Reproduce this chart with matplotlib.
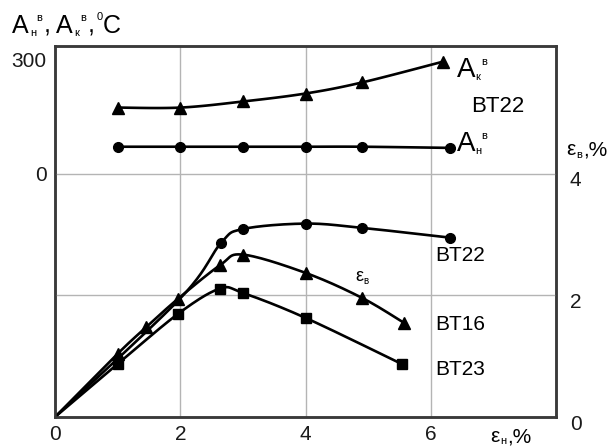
import numpy as np
import matplotlib
matplotlib.use("Agg")
import matplotlib.pyplot as plt
from matplotlib.transforms import ScaledTranslation

plt.rcParams['font.family'] = ['Liberation Sans', 'DejaVu Sans']

# ---- data ----
# upper panel: temperatures, left axis (deg C)
ak_x = [1.0, 2.0, 3.0, 4.0, 4.9, 6.2]
ak_t = [174, 174, 190, 211, 240, 295]
an_x = [1.0, 2.0, 3.0, 4.0, 4.9, 6.3]
an_t = [71, 71, 71, 71, 71, 68]

# lower panel: eps_v (%), right axis
bt22_x = [0.0, 2.0, 2.65, 3.0, 4.0, 4.9, 6.3]
bt22_e = [0.0, 1.95, 2.86, 3.09, 3.18, 3.11, 2.95]
bt16_x = [0.0, 1.0, 1.46, 1.96, 2.64, 3.0, 4.0, 4.9, 5.57]
bt16_e = [0.0, 1.04, 1.48, 1.94, 2.50, 2.67, 2.37, 1.96, 1.55]
bt23_x = [0.0, 1.0, 1.97, 2.63, 3.0, 4.0, 5.54]
bt23_e = [0.0, 0.87, 1.70, 2.11, 2.04, 1.63, 0.87]

x_ticks = [0, 2, 4, 6]
left_ticks = [0, 300]
right_ticks = [0, 2, 4]

W, H = 613, 448


def smooth(x, y, n=25):
    # Catmull-Rom curve through the points, just for drawing the line
    pts = np.column_stack([x, y]).astype(float)
    p = np.vstack([pts[0], pts, pts[-1]])
    t = np.linspace(0, 1, n)[:, None]
    segs = []
    for i in range(1, len(p) - 2):
        p0, p1, p2, p3 = p[i - 1], p[i], p[i + 1], p[i + 2]
        seg = 0.5 * (2 * p1 + (-p0 + p2) * t + (2 * p0 - 5 * p1 + 4 * p2 - p3) * t ** 2
                     + (-p0 + 3 * p1 - 3 * p2 + p3) * t ** 3)
        segs.append(seg)
    c = np.vstack(segs)
    return c[:, 0], c[:, 1]


def px(x, y):
    return x / W, 1 - y / H


fig = plt.figure(figsize=(W / 100, H / 100), dpi=100)
ax = fig.add_axes([55 / W, 1 - 417 / H, (556 - 55) / W, (417 - 46) / H])
ax2 = ax.twinx()

ax.set_xlim(0, 8)
ax.set_ylim(-640, 336)
ax2.set_ylim(0, 6.1)

grid_c = '#b4b4b4'
for gx in [2, 4, 6]:
    ax.axvline(gx, color=grid_c, lw=1.0, zorder=0)
for gy in [2, 4]:
    ax2.axhline(gy, color=grid_c, lw=1.0, zorder=0)

lw = 1.9
# temperature curves
sx, sy = smooth(ak_x, ak_t)
ax.plot(sx, sy, color='black', lw=lw)
ax.plot(ak_x, ak_t, 'k^', ms=8, ls='none')
sx, sy = smooth(an_x, an_t)
ax.plot(sx, sy, color='black', lw=lw)
ax.plot(an_x, an_t, 'ko', ms=7, ls='none')

# eps_v curves
sx, sy = smooth(bt22_x, bt22_e)
ax2.plot(sx, sy, color='black', lw=lw)
ax2.plot(bt22_x[2:], bt22_e[2:], 'ko', ms=7, ls='none')
sx, sy = smooth(bt16_x, bt16_e)
ax2.plot(sx, sy, color='black', lw=lw)
ax2.plot(bt16_x[1:], bt16_e[1:], 'k^', ms=8, ls='none')
sx, sy = smooth(bt23_x, bt23_e)
ax2.plot(sx, sy, color='black', lw=lw)
ax2.plot(bt23_x[1:], bt23_e[1:], 'ks', ms=6.5, ls='none')

# axes look
for a in (ax, ax2):
    for s in a.spines.values():
        s.set_color('#3a3a3a')
        s.set_linewidth(1.8)
ax.set_xticks(x_ticks)
ax.set_yticks(left_ticks)
ax2.set_yticks(right_ticks)
ax.tick_params(axis='both', length=0, labelsize=15, colors='#1a1a1a')
ax.tick_params(axis='x', pad=6)
ax.tick_params(axis='y', pad=6)
ax2.tick_params(axis='y', length=0, labelsize=15, pad=10, colors='#1a1a1a')
off = ScaledTranslation(0, -0.05, fig.dpi_scale_trans)
for lbl in ax2.get_yticklabels():
    lbl.set_transform(lbl.get_transform() + off)


def a_label(x, y, sub, sup, size=18):
    # "A" with small subscript and superscript letters
    fig.text(*px(x, y), 'A', fontsize=size, ha='left', va='baseline')
    fig.text(*px(x + 18, y + 3), sub, fontsize=8, ha='left', va='baseline')
    fig.text(*px(x + 24, y - 12), sup, fontsize=8, ha='left', va='baseline')


# top-left axis title
a_label(12, 33, 'н', 'в')
fig.text(*px(44, 33), ',', fontsize=18, ha='left', va='baseline')
a_label(56, 33, 'к', 'в')
fig.text(*px(88, 33), ',', fontsize=18, ha='left', va='baseline')
fig.text(*px(97, 20), '0', fontsize=8, ha='left', va='baseline')
fig.text(*px(103, 33), 'C', fontsize=18, ha='left', va='baseline')

# curve labels, upper panel
a_label(457, 77, 'к', 'в', size=20)
fig.text(*px(498, 107), 'BT22', fontsize=16, ha='center', va='center')
a_label(457, 151, 'н', 'в', size=20)

# right axis title
fig.text(*px(566, 155), 'ε', fontsize=15, ha='left', va='baseline')
fig.text(*px(576, 158), 'в', fontsize=8, ha='left', va='baseline')
fig.text(*px(583, 155), ',%', fontsize=15, ha='left', va='baseline')

# lower panel labels
fig.text(*px(435, 255), 'BT22', fontsize=15, ha='left', va='center')
fig.text(*px(435, 324), 'BT16', fontsize=15, ha='left', va='center')
fig.text(*px(435, 369), 'BT23', fontsize=15, ha='left', va='center')
fig.text(*px(355, 281), 'ε', fontsize=13, ha='left', va='baseline')
fig.text(*px(363, 284), 'в', fontsize=7, ha='left', va='baseline')

# x axis title, at the bottom edge
fig.text(*px(490, 442), 'ε', fontsize=15, ha='left', va='baseline')
fig.text(*px(500, 444), 'н', fontsize=8, ha='left', va='baseline')
fig.text(*px(507, 442), ',%', fontsize=15, ha='left', va='baseline')

fig.savefig('out.png', dpi=100)
